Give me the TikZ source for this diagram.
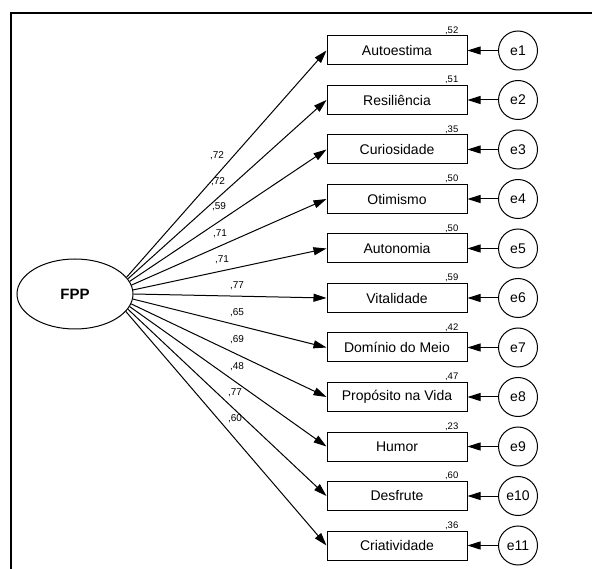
\documentclass[tikz,border=0pt]{standalone}
\usepackage{fontspec}
\setmainfont{Liberation Sans}
\usetikzlibrary{arrows.meta,shapes.geometric,positioning}
\tikzset{
  var/.style={rectangle, draw, line width=1pt, minimum width=140pt, minimum height=29pt, inner sep=0pt, font=\fontsize{14}{16}\selectfont},
  err/.style={circle, draw, line width=1pt, minimum size=39pt, inner sep=0pt, font=\fontsize{14}{16}\selectfont},
  lat/.style={ellipse, draw, line width=1pt, minimum width=116pt, minimum height=70pt, inner sep=0pt, font=\fontsize{15}{17}\selectfont\bfseries},
  freccia/.style={line width=1pt, -{Triangle[length=13pt,width=8pt]}},
  peso/.style={inner sep=0pt, font=\fontsize{10}{12}\selectfont},
  rq/.style={inner sep=0pt, font=\fontsize{9.5}{11}\selectfont}
}
\begin{document}
\begin{tikzpicture}[x=1pt, y=-1pt]
            \useasboundingbox (0,0) rectangle (592,569);
            \draw[line width=1.2pt] (11,569) -- (11,13) -- (592,13);

            % Nodi
            \node[lat] (fpp) at (75,294) {FPP};

            \node[var] (v1) at (397,50.5) {Autoestima};
            \node[var] (v2) at (397,100) {Resiliência};
            \node[var] (v3) at (397,149.5) {Curiosidade};
            \node[var] (v4) at (397,199) {Otimismo};
            \node[var] (v5) at (397,248.5) {Autonomia};
            \node[var] (v6) at (397,298) {Vitalidade};
            \node[var] (v7) at (397,347.5) {Domínio do Meio};
            \node[var] (v8) at (397,397) {Propósito na Vida};
            \node[var] (v9) at (397,446.5) {Humor};
            \node[var] (v10) at (397,496) {Desfrute};
            \node[var] (v11) at (397,545.5) {Criatividade};

            \node[err] (e1) at (518,50.5) {e1};
            \node[err] (e2) at (518,100) {e2};
            \node[err] (e3) at (518,149.5) {e3};
            \node[err] (e4) at (518,199) {e4};
            \node[err] (e5) at (518,248.5) {e5};
            \node[err] (e6) at (518,298) {e6};
            \node[err] (e7) at (518,347.5) {e7};
            \node[err] (e8) at (518,397) {e8};
            \node[err] (e9) at (518,446.5) {e9};
            \node[err] (e10) at (518,496) {e10};
            \node[err] (e11) at (518,545.5) {e11};

            % R quadrato
            \node[rq, above left=1pt and 9pt of v1.north east] (r1) {,52};
            \node[rq, above left=1pt and 9pt of v2.north east] (r2) {,51};
            \node[rq, above left=1pt and 9pt of v3.north east] (r3) {,35};
            \node[rq, above left=1pt and 9pt of v4.north east] (r4) {,50};
            \node[rq, above left=1pt and 9pt of v5.north east] (r5) {,50};
            \node[rq, above left=1pt and 9pt of v6.north east] (r6) {,59};
            \node[rq, above left=1pt and 9pt of v7.north east] (r7) {,42};
            \node[rq, above left=1pt and 9pt of v8.north east] (r8) {,47};
            \node[rq, above left=1pt and 9pt of v9.north east] (r9) {,23};
            \node[rq, above left=1pt and 9pt of v10.north east] (r10) {,60};
            \node[rq, above left=1pt and 9pt of v11.north east] (r11) {,36};

            % Archi
            \draw[freccia] (fpp.18.9) -- (v1.west);
            \draw[freccia] (fpp.16.4) -- (v2.west);
            \draw[freccia] (fpp.13.2) -- (v3.west);
            \draw[freccia] (fpp.9.3) -- (v4.west);
            \draw[freccia] (fpp.4.7) -- (v5.west);
            \draw[freccia] (fpp.-0.4) -- (v6.west);
            \draw[freccia] (fpp.-5.5) -- (v7.west);
            \draw[freccia] (fpp.-10) -- (v8.west);
            \draw[freccia] (fpp.-13.8) -- (v9.west);
            \draw[freccia] (fpp.-16.8) -- (v10.west);
            \draw[freccia] (fpp.-19.3) -- (v11.west);

            \draw[freccia] (e1) -- (v1);
            \draw[freccia] (e2) -- (v2);
            \draw[freccia] (e3) -- (v3);
            \draw[freccia] (e4) -- (v4);
            \draw[freccia] (e5) -- (v5);
            \draw[freccia] (e6) -- (v6);
            \draw[freccia] (e7) -- (v7);
            \draw[freccia] (e8) -- (v8);
            \draw[freccia] (e9) -- (v9);
            \draw[freccia] (e10) -- (v10);
            \draw[freccia] (e11) -- (v11);

            % Pesi
            \node[peso] (p1) at (217,156) {,72};
            \node[peso] (p2) at (218,182) {,72};
            \node[peso] (p3) at (219,207) {,59};
            \node[peso] (p4) at (220,234) {,71};
            \node[peso] (p5) at (222,260) {,71};
            \node[peso] (p6) at (237,286) {,77};
            \node[peso] (p7) at (237,313) {,65};
            \node[peso] (p8) at (237,340) {,69};
            \node[peso] (p9) at (237,367) {,48};
            \node[peso] (p10) at (235,393) {,77};
            \node[peso] (p11) at (235,419) {,60};
        \end{tikzpicture}
\end{document}
